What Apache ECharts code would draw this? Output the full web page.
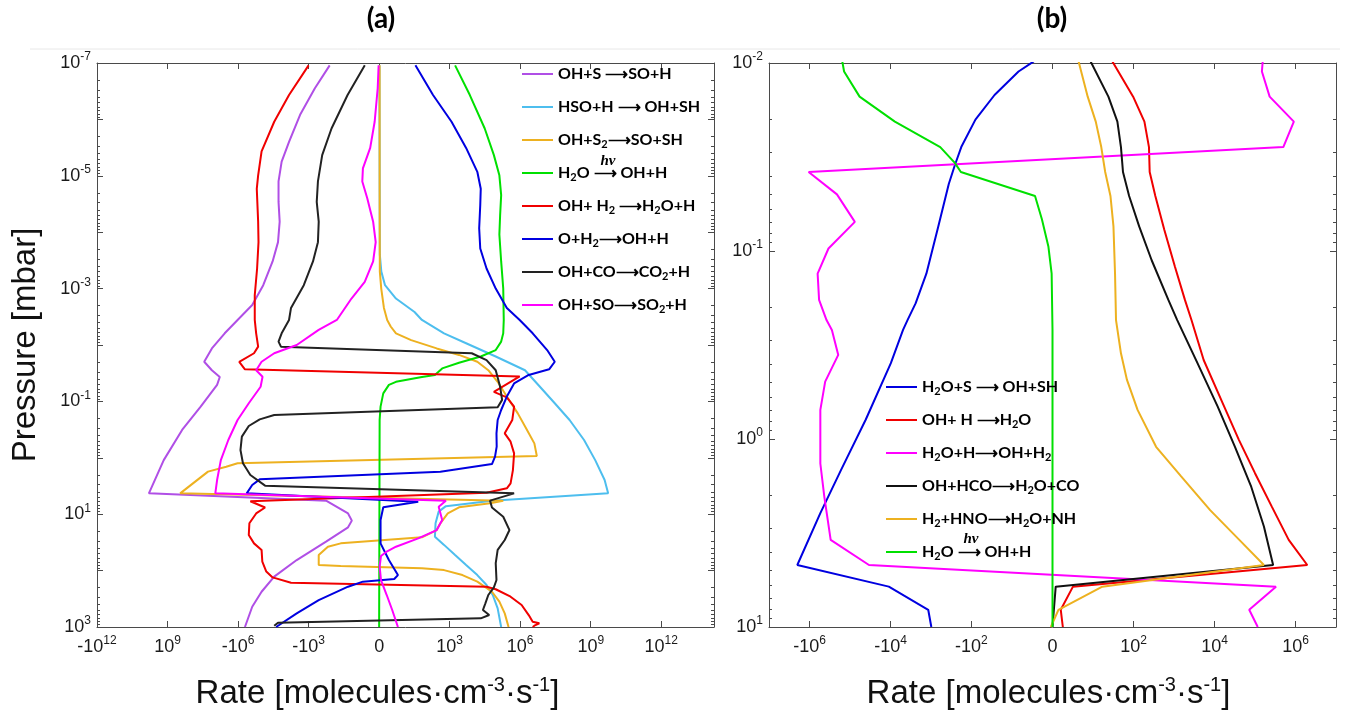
<!DOCTYPE html>
<html>
<head>
<meta charset="utf-8">
<script src="https://cdn.jsdelivr.net/npm/echarts@6/dist/echarts.min.js"></script>
<style>
    html, body { margin: 0; padding: 0; background: #fff; }
    #main { width: 1356px; height: 715px; }
</style>
</head>
<body>
<div id="main"></div>
<script>
// ---- panel (a): [rate (molecules cm^-3 s^-1), pressure (mbar)] ----
var ohS = [[-126,1.1e-7],[-540,2.8e-7],[-2.3e3,8.3e-7],[-6.8e3,2.5e-6],[-1.4e4,5.6e-6],[-1.9e4,1.26e-5],[-1.9e4,2.9e-5],[-1.7e4,6.5e-5],[-2.0e4,1.5e-4],[-3.4e4,3.3e-4],[-8.5e4,8.7e-4],[-2.5e5,1.95e-3],[-1.05e6,3.6e-3],[-3.7e6,6.2e-3],[-1.3e7,1.15e-2],[-2.75e7,1.98e-2],[-1.3e7,2.8e-2],[-6.0e6,3.7e-2],[-7.8e6,5.1e-2],[-3.9e7,0.124],[-2.4e8,0.321],[-1.45e9,1.1],[-6.2e9,4.27],[-180,5.75],[-20,9.7],[-13.5,13],[-20,17.1],[-180,30.7],[-3.2e3,65],[-2.9e4,128],[-1.0e5,237],[-2.5e5,437],[-5.1e5,1000]];
var hsoH = [[0.03,1.1e-7],[0.07,2.5e-4],[0.24,5e-4],[0.78,8.7e-4],[4.2,1.5e-3],[31,2.6e-3],[65,3.6e-3],[575,6.2e-3],[5e3,9.3e-3],[9.1e4,1.6e-2],[1.6e6,2.8e-2],[6.9e6,5.5e-2],[2.95e7,0.108],[1.26e8,0.214],[5.2e8,0.484],[1.55e9,1.1],[3.9e9,2.48],[5.5e9,4.27],[6.3e4,5.75],[690,7.2],[340,9.0],[250,14.5],[235,25],[575,35],[1.7e3,53],[5e3,79.6],[1.5e4,120],[3.7e4,180],[6.8e4,271],[1.1e5,468],[1.55e5,1000]];
var ohS2 = [[0.05,1.1e-7],[0.05,1.7e-5],[0.07,5e-4],[0.23,1.0e-3],[0.6,2.2e-3],[1.2,3.6e-3],[2.1,4.7e-3],[4.2,6.2e-3],[22,8.2e-3],[280,1.15e-2],[2.5e3,1.5e-2],[1.5e4,1.98e-2],[4.4e4,2.8e-2],[1.1e5,4.5e-2],[2.7e5,8.2e-2],[7.9e5,0.163],[1.95e6,0.321],[4.0e6,0.555],[5.1e6,0.93],[-1.05e6,1.25],[-3.2e6,1.44],[-1.9e7,1.76],[-2.9e8,4.27],[1.9e5,5.75],[5.2e4,6.4],[2.5e3,7.55],[830,9.7],[400,14.5],[280,19.1],[65,25.7],[-42,32.9],[-150,37.7],[-370,53],[-370,79.6],[-42,83],[65,91],[575,98],[3.5e3,120],[1.5e4,157],[6.3e4,237],[1.3e5,356],[2.2e5,573],[3.2e5,1000]];
var h2oHv = [[1.7e3,1.1e-7],[7.2e3,3.7e-7],[3.1e4,1.45e-6],[7.6e4,4.3e-6],[1.3e5,9.8e-6],[1.55e5,2.2e-5],[1.4e5,5e-5],[1.3e5,1.1e-4],[1.55e5,3.3e-4],[1.9e5,1.0e-3],[2.0e5,3.6e-3],[1.9e5,6.2e-3],[1.55e5,8.7e-3],[9.1e4,1.23e-2],[2.1e4,1.6e-2],[2.5e3,2.06e-2],[480,2.6e-2],[235,3.4e-2],[65,3.7e-2],[4.2,4.5e-2],[1.6,5.1e-2],[0.5,7.2e-2],[0.15,0.124],[0.05,0.214],[0,1000]];
var ohH2 = [[-1.0e3,1.1e-7],[-6.8e3,3.7e-7],[-2.9e4,1.1e-6],[-1.0e5,3.7e-6],[-1.4e5,9.8e-6],[-1.6e5,1.7e-5],[-1.4e5,6.5e-5],[-1.35e5,1.5e-4],[-1.55e5,4.4e-4],[-1.95e5,1.3e-3],[-1.95e5,3.6e-3],[-1.7e5,6.2e-3],[-1.4e5,1.07e-2],[-2.1e5,1.4e-2],[-8.9e5,2.0e-2],[-5.1e5,2.7e-2],[9.5e5,3.6e-2],[7.6e4,6.8e-2],[2.7e5,8.5e-2],[5.5e5,0.124],[4.6e5,0.214],[2.2e5,0.368],[3.9e5,0.518],[5.5e5,0.834],[4.9e5,1.65],[3.9e5,2.84],[2.7e5,3.48],[3.7e4,4.15],[-3.0e5,5.9],[-7.1e4,7.6],[-1.7e5,9.7],[-3.3e5,14.5],[-3.5e5,23.4],[-2.1e5,32.9],[-1.0e5,43],[-9.3e4,69.5],[-6.3e4,104],[-3.4e4,132],[-5.6e3,164],[3.7e4,193],[9.1e4,214],[3.9e5,290],[1.15e6,407],[2.3e6,614],[3.4e6,805],[6.5e6,861],[4.0e6,948],[3.4e6,1000]];
var oH2 = [[34,1.1e-7],[195,3.7e-7],[1.2e3,1.1e-6],[5e3,3.2e-6],[1.5e4,8.5e-6],[2.1e4,1.7e-5],[2e4,3.3e-5],[1.8e4,8.5e-5],[2e4,1.95e-4],[3.7e4,4.4e-4],[9.1e4,1.0e-3],[2.7e5,2.2e-3],[9.5e5,3.6e-3],[3.4e6,6.2e-3],[1.4e7,1.23e-2],[2.95e7,1.98e-2],[1.7e7,2.7e-2],[2.3e6,3.4e-2],[5.5e5,4.8e-2],[2.7e5,8.2e-2],[1.55e5,0.142],[1.1e5,0.214],[9.8e4,0.368],[1e5,0.635],[8.5e4,0.955],[6.3e4,1.29],[400,1.76],[-1.2e5,2.41],[-2.5e5,3.04],[-4.3e5,4.27],[45,6.0],[0.5,7.55],[0.15,12.7],[0.15,32.9],[1.6,65],[5.3,120],[3.4,141],[-3.9,157],[-20,193],[-370,333],[-3.2e3,573],[-2.4e4,1000]];
var ohCO = [[-3.07,1.1e-7],[-21,3.7e-7],[-105,1.45e-6],[-263,4.3e-6],[-400,1.26e-5],[-450,2.9e-5],[-370,6.5e-5],[-400,1.5e-4],[-650,3.3e-4],[-1.6e3,8.7e-4],[-5.6e3,2.2e-3],[-6.8e3,3.6e-3],[-1.4e4,6.2e-3],[-1.9e4,8.7e-3],[-1.5e4,1.07e-2],[8.7e3,1.4e-2],[3.7e4,1.85e-2],[9.1e4,2.8e-2],[1.4e5,5.5e-2],[1.7e5,9.4e-2],[1.1e5,0.127],[-2.9e4,0.174],[-1.2e5,0.208],[-3.5e5,0.273],[-6.9e5,0.422],[-7.9e5,0.728],[-6.2e5,1.25],[-3.0e5,2.02],[-7.1e4,3.12],[5.5e5,4.27],[5.2e4,5.75],[6.3e4,7.6],[1.9e5,11.1],[3.5e5,19.1],[2.2e5,28.7],[1.1e5,43],[9.1e4,74],[9.8e4,147],[7.6e4,198],[4.4e4,271],[3.3e4,381],[2.6e4,500],[4.8e4,614],[2.1e4,703],[-2.0e4,838],[-2.9e4,948]];
var ohSO = [[-0.05,1.1e-7],[-0.15,2.8e-7],[-0.55,1.1e-6],[-1.4,3.2e-6],[-3.9,7.4e-6],[-4.2,1.26e-5],[-2.2,2.5e-5],[-0.8,6.5e-5],[-0.4,1.5e-4],[-0.8,3.3e-4],[-3.1,7.6e-4],[-14,1.5e-3],[-62,3.6e-3],[-372,5.4e-3],[-3.2e3,1.0e-2],[-2.9e4,1.4e-2],[-1.0e5,1.98e-2],[-1.7e5,2.8e-2],[-9.1e4,3.65e-2],[-1.1e5,5.5e-2],[-3.5e5,0.108],[-1.05e6,0.214],[-2.6e6,0.484],[-5.4e6,1.1],[-7.8e6,2.48],[-9.3e6,4.27],[690,5.75],[340,7.4],[480,12.7],[280,19.1],[45,26.8],[4.2,37.7],[1.1,46],[0.2,55],[0.05,85],[0.2,147],[1.1,271],[2.6,500],[5.3,1000]];

// ---- panel (b) ----
var h2oS = [[-1.9,9.8e-3],[-5.9,1.11e-2],[-26,1.48e-2],[-79,2.0e-2],[-178,2.8e-2],[-257,3.5e-2],[-363,4.4e-2],[-660,7.4e-2],[-1.3e3,0.132],[-2.4e3,0.19],[-3.8e3,0.233],[-4.9e3,0.263],[-9.8e3,0.395],[-4.1e4,0.79],[-1.66e5,1.46],[-5.4e5,2.48],[-2e6,4.68],[-1.1e4,6.1],[-1.17e3,8.1],[-980,10]];
var ohH = [[29,9.8e-3],[97,1.51e-2],[185,2.05e-2],[240,2.8e-2],[250,3.8e-2],[345,5.1e-2],[575,7.7e-2],[1.05e3,0.121],[1.86e3,0.182],[2.7e3,0.233],[5.4e3,0.38],[1.6e4,0.646],[4e4,1.01],[1e5,1.52],[2.6e5,2.29],[6.8e5,3.44],[1.95e6,4.68],[2.2,6.1],[0.6,8.1],[0.8,10]];
var h2oH = [[1.55e5,9.8e-3],[1.48e5,1.11e-2],[2.3e5,1.51e-2],[9.1e5,2.05e-2],[5e5,2.8e-2],[-1.05e6,3.8e-2],[-2.1e5,5.0e-2],[-7.6e4,7.0e-2],[-3.4e5,9.7e-2],[-6.3e5,0.132],[-5.8e5,0.182],[-3.8e5,0.233],[-2.8e5,0.263],[-1.95e5,0.357],[-4.1e5,0.495],[-5.4e5,0.70],[-5.4e5,1.35],[-4.3e5,2.03],[-3e5,3.44],[-3.4e4,4.68],[3.3e5,6.1],[7.2e4,8.1],[1.17e5,10]];
var ohHCO = [[7.7,9.8e-3],[23,1.51e-2],[39,2.05e-2],[48,2.8e-2],[54,3.8e-2],[77,5.1e-2],[137,7.4e-2],[280,0.112],[725,0.182],[1.2e3,0.233],[3.8e3,0.395],[1.2e4,0.673],[3.2e4,1.1],[8.1e4,1.8],[1.66e5,2.92],[2.8e5,4.68],[0.2,6.1],[0,10]];
var h2HNO = [[3.4,9.8e-3],[6.4,1.51e-2],[10.7,2.05e-2],[15,2.8e-2],[19,3.8e-2],[26,5.1e-2],[31,7.4e-2],[34,0.132],[36,0.233],[48,0.35],[68,0.485],[125,0.70],[360,1.1],[1.5e3,1.58],[7.8e3,2.39],[4.1e4,3.44],[1.66e5,4.68],[16,6.1],[0.4,8.1],[-0.1,10]];
var h2oHvB = [[-1.55e5,9.8e-3],[-1.4e5,1.11e-2],[-5.8e4,1.51e-2],[-7.8e3,2.05e-2],[-590,2.8e-2],[-257,3.4e-2],[-182,3.8e-2],[-1.7,5.1e-2],[-0.82,6.8e-2],[-0.26,9.5e-2],[-0.05,0.132],[0,0.263],[0,10]];

// ---- axes ----
var aXLim = [-1e12, 1.75e14];
var aXTicks = [-1e12, -1e9, -1e6, -1e3, 0, 1e3, 1e6, 1e9, 1e12];
var aXTickText = ['-10{sup|12}', '10{sup|9}', '-10{sup|6}', '-10{sup|3}', '0', '10{sup|3}', '10{sup|6}', '10{sup|9}', '10{sup|12}'];
var aYLim = [1e-7, 1e3];
var aYTicks = [1e-7, 1e-5, 1e-3, 1e-1, 1e1, 1e3];
var bXLim = [-1e7, 1e7];
var bXTicks = [-1e6, -1e4, -1e2, 0, 1e2, 1e4, 1e6];
var bXTickText = ['-10{sup|6}', '-10{sup|4}', '-10{sup|2}', '0', '10{sup|2}', '10{sup|4}', '10{sup|6}'];
var bYLim = [1e-2, 1e1];
var bYTicks = [1e-2, 1e-1, 1e0, 1e1];

var seriesA = [
    {name: 'OH+S -> SO+H', data: ohS, color: '#B04FE6'},
    {name: 'HSO+H -> OH+SH', data: hsoH, color: '#4DBEEE'},
    {name: 'OH+S2 -> SO+SH', data: ohS2, color: '#EDB120'},
    {name: 'H2O hv -> OH+H', data: h2oHv, color: '#00E000'},
    {name: 'OH+H2 -> H2O+H', data: ohH2, color: '#F00000'},
    {name: 'O+H2 -> OH+H', data: oH2, color: '#0000E0'},
    {name: 'OH+CO -> CO2+H', data: ohCO, color: '#222222'},
    {name: 'OH+SO -> SO2+H', data: ohSO, color: '#FF00FF'}
];
var seriesB = [
    {name: 'H2O+S -> OH+SH', data: h2oS, color: '#0000E0'},
    {name: 'OH+H -> H2O', data: ohH, color: '#F00000'},
    {name: 'H2O+H -> OH+H2', data: h2oH, color: '#FF00FF'},
    {name: 'OH+HCO -> H2O+CO', data: ohHCO, color: '#111111'},
    {name: 'H2+HNO -> H2O+NH', data: h2HNO, color: '#EDB120'},
    {name: 'H2O hv -> OH+H (b)', data: h2oHvB, color: '#00E000'}
];
var legendText = {
    'OH+S -> SO+H': 'OH+S \u27F6SO+H',
    'HSO+H -> OH+SH': 'HSO+H \u27F6 OH+SH',
    'OH+S2 -> SO+SH': 'OH+S{s|2}\u27F6SO+SH',
    'H2O hv -> OH+H': 'H{s|2}O \u27F6 OH+H',
    'OH+H2 -> H2O+H': 'OH+ H{s|2} \u27F6H{s|2}O+H',
    'O+H2 -> OH+H': 'O+H{s|2}\u27F6OH+H',
    'OH+CO -> CO2+H': 'OH+CO\u27F6CO{s|2}+H',
    'OH+SO -> SO2+H': 'OH+SO\u27F6SO{s|2}+H',
    'H2O+S -> OH+SH': 'H{s|2}O+S \u27F6 OH+SH',
    'OH+H -> H2O': 'OH+ H \u27F6H{s|2}O',
    'H2O+H -> OH+H2': 'H{s|2}O+H\u27F6OH+H{s|2}',
    'OH+HCO -> H2O+CO': 'OH+HCO\u27F6H{s|2}O+CO',
    'H2+HNO -> H2O+NH': 'H{s|2}+HNO\u27F6H{s|2}O+NH',
    'H2O hv -> OH+H (b)': 'H{s|2}O \u27F6 OH+H'
};

var axisColor = '#4a4a4a';
var labelFont = 'Liberation Sans';

function symlog(v) {
    return v === 0 ? 0 : Math.sign(v) * Math.log10(1 + Math.abs(v));
}
function toPts(arr) {
    return arr.map(function (d) { return [symlog(d[0]), Math.log10(d[1])]; });
}
function range(lo, hi) {
    var out = [];
    for (var d = lo; d <= hi; d++) out.push(d);
    return out;
}
function minorTicks(lo, hi) {
    var out = [];
    for (var d = lo; d < hi; d++) {
        for (var k = 2; k <= 9; k++) out.push(d + Math.log10(k));
    }
    return out;
}

var supRich = {sup: {fontSize: 12, lineHeight: 13, verticalAlign: 'top', fontFamily: labelFont, color: '#1a1a1a'}};
function nameStyle(pad) {
    return {
        fontSize: 33, fontFamily: labelFont, color: '#111', lineHeight: 38, padding: pad,
        rich: {sup: {fontSize: 20, lineHeight: 20, verticalAlign: 'top', fontFamily: labelFont, color: '#111'}}
    };
}

function xAxes(gi, lim, ticks, text, namePad) {
    var tv = ticks.map(symlog);
    function base(pos) {
        return {
            type: 'value', gridIndex: gi, position: pos, min: symlog(lim[0]), max: symlog(lim[1]),
            splitLine: {show: false},
            axisLine: {onZero: false, lineStyle: {color: axisColor, width: 1}},
            axisTick: {inside: true, length: 6, customValues: tv, lineStyle: {color: axisColor}}
        };
    }
    var bottom = base('bottom');
    bottom.name = 'Rate [molecules\u00B7cm{sup|-3}\u00B7s{sup|-1}]';
    bottom.nameLocation = 'middle';
    bottom.nameGap = 48;
    bottom.nameTextStyle = nameStyle(namePad);
    bottom.axisLabel = {
        customValues: tv, margin: 8, fontSize: 18, lineHeight: 24, fontFamily: labelFont, color: '#1a1a1a',
        formatter: function (v) {
            for (var i = 0; i < tv.length; i++) if (Math.abs(tv[i] - v) < 1e-6) return text[i];
            return '';
        },
        rich: supRich
    };
    var top = base('top');
    top.axisLabel = {show: false};
    return [bottom, top];
}

function yAxes(gi, lim, ticks, name) {
    var lo = Math.round(Math.log10(lim[0])), hi = Math.round(Math.log10(lim[1]));
    var lv = ticks.map(function (t) { return Math.round(Math.log10(t)); });
    function base(pos, minor) {
        return {
            type: 'value', gridIndex: gi, position: pos, inverse: true, min: lo, max: hi,
            splitLine: {show: false},
            axisLine: {show: !minor, onZero: false, lineStyle: {color: axisColor, width: 1}},
            axisTick: {
                inside: true, length: minor ? 3 : 6,
                customValues: minor ? minorTicks(lo, hi) : range(lo, hi),
                lineStyle: {color: axisColor}
            },
            axisLabel: {show: false}
        };
    }
    var left = base('left', false);
    left.axisLabel = {
        show: true, customValues: lv, margin: 6, fontSize: 18, lineHeight: 24, fontFamily: labelFont, color: '#1a1a1a',
        formatter: function (v) { return '10{sup|' + Math.round(v) + '}'; },
        rich: supRich
    };
    if (name) {
        left.name = name;
        left.nameLocation = 'middle';
        left.nameGap = 52;
        left.nameRotate = 90;
        left.nameTextStyle = nameStyle([0, 0, 0, 0]);
    }
    return [left, base('right', false), base('left', true), base('right', true)];
}

function makeSeries(list, xi, yi) {
    return list.map(function (s) {
        return {
            name: s.name, type: 'line', xAxisIndex: xi, yAxisIndex: yi,
            data: toPts(s.data), symbol: 'none', showSymbol: false,
            lineStyle: {width: 2, color: s.color}, itemStyle: {color: s.color},
            emphasis: {disabled: true}, silent: true
        };
    });
}

var legendStyle = {
    fontFamily: 'Lato', fontWeight: 'bold', fontSize: 16, color: '#000', lineHeight: 20,
    rich: {s: {fontFamily: 'Lato', fontWeight: 'bold', fontSize: 11, lineHeight: 11, verticalAlign: 'bottom', color: '#000'}}
};
function makeLegend(list, left, top) {
    return {
        data: list.map(function (s) { return {name: s.name, icon: 'rect'}; }),
        orient: 'vertical', left: left, top: top, itemWidth: 31, itemHeight: 2, itemGap: 13,
        selectedMode: false, textStyle: legendStyle,
        formatter: function (n) { return legendText[n]; }
    };
}

function label(text, x, y, size, extra) {
    var st = {
        text: text, fontSize: size, fontWeight: 'bold', fontFamily: 'Lato', fill: '#000',
        textAlign: 'center', textVerticalAlign: 'middle', align: 'center', verticalAlign: 'middle'
    };
    if (extra) for (var k in extra) st[k] = extra[k];
    return {type: 'text', x: x, y: y, style: st, silent: true};
}

var myChart = echarts.init(document.getElementById('main'));

var option = {
    animation: false,
    backgroundColor: '#fff',
    grid: [
        {left: 97, right: 642, top: 63, bottom: 88, outerBoundsMode: 'none'},
        {left: 769, right: 20, top: 63, bottom: 88, outerBoundsMode: 'none'}
    ],
    xAxis: xAxes(0, aXLim, aXTicks, aXTickText, [0, 56, 0, 0]).concat(xAxes(1, bXLim, bXTicks, bXTickText, [0, 8, 0, 0])),
    yAxis: yAxes(0, aYLim, aYTicks, 'Pressure [mbar]').concat(yAxes(1, bYLim, bYTicks, null)),
    legend: [makeLegend(seriesA, 517, 59), makeLegend(seriesB, 881, 372)],
    graphic: [
        {type: 'line', shape: {x1: 30, y1: 49, x2: 1340, y2: 49}, style: {stroke: '#e8e8e8', lineWidth: 1}, silent: true},
        label('(a)', 381, 19, 28),
        label('(b)', 1052, 19, 28),
        label('hv', 608, 161, 15, {fontStyle: 'italic', fontFamily: 'Liberation Serif'}),
        label('hv', 971, 539, 15, {fontStyle: 'italic', fontFamily: 'Liberation Serif'})
    ],
    series: makeSeries(seriesA, 0, 0).concat(makeSeries(seriesB, 2, 4))
};
myChart.setOption(option);
</script>
</body>
</html>
